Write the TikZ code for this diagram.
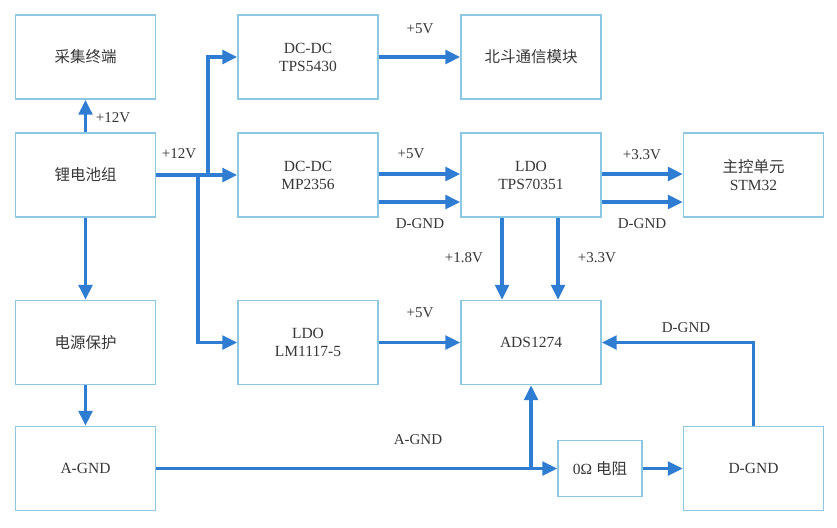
\documentclass[tikz,border=0pt]{standalone}
\usepackage{fontspec}
\setmainfont{Liberation Serif}
\newfontfamily\cjk{Noto Sans CJK SC}
\usetikzlibrary{arrows.meta}
\definecolor{boxc}{RGB}{140,200,225}
\definecolor{linec}{RGB}{46,125,210}
\definecolor{txt}{RGB}{55,55,55}
\begin{document}
\begin{tikzpicture}[x=1pt,y=-1pt,
  box/.style={draw=boxc,line width=1.3pt,fill=white,minimum width=140pt,minimum height=84pt,
    align=center,text=txt,font=\fontsize{15.5}{18}\selectfont,inner sep=0pt},
  conn/.style={draw=linec,line width=3.6pt},
  arr/.style={conn,-{Triangle[length=15pt,width=13.5pt]}},
  lbl/.style={text=txt,font=\fontsize{15}{17}\selectfont,inner sep=0pt}]
\path[fill=white] (0,0) rectangle (837,527);
% boxes
\node[box] (cj) at (85.5,57) {{\cjk 采集终端}};
\node[box] (li) at (85.5,175) {{\cjk 锂电池组}};
\node[box] (bh) at (85.5,342.5) {{\cjk 电源保护}};
\node[box] (ag) at (85.5,468.5) {A-GND};
\node[box] (tps) at (308,57) {DC-DC\\TPS5430};
\node[box] (mp) at (308,175) {DC-DC\\MP2356};
\node[box] (lm) at (308,342.5) {LDO\\LM1117-5};
\node[box] (bd) at (531,57) {{\cjk 北斗通信模块}};
\node[box] (ldo) at (531,175) {LDO\\TPS70351};
\node[box] (ads) at (531,342.5) {ADS1274};
\node[box] (mcu) at (753.5,175) {{\cjk 主控单元}\\STM32};
\node[box] (dg) at (753.5,468.5) {D-GND};
\node[box,minimum width=84pt,minimum height=56pt] (r0) at (600,468.5) {0Ω {\cjk 电阻}};
% coordinates
\coordinate (b1) at (208,175);
\coordinate (b2) at (198,175);
\coordinate (b3) at (531,468.5);
% connectors
\draw[arr] (li.north) -- (cj.south);
\draw[arr] (li.south) -- (bh.north);
\draw[arr] (bh.south) -- (ag.north);
\draw[arr] (li.east) -- (mp.west);
\draw[arr] (b1) |- (tps.west);
\draw[arr] (b2) |- (lm.west);
\draw[arr] (tps.east) -- (bd.west);
\draw[arr] ([yshift=1pt]mp.east) -- ([yshift=1pt]ldo.west);
\draw[arr] ([yshift=-27pt]mp.east) -- ([yshift=-27pt]ldo.west);
\draw[arr] ([yshift=1pt]ldo.east) -- ([yshift=1pt]mcu.west);
\draw[arr] ([yshift=-27pt]ldo.east) -- ([yshift=-27pt]mcu.west);
\draw[arr] ([xshift=-29pt]ldo.south) -- ([xshift=-29pt]ads.north);
\draw[arr] ([xshift=27pt]ldo.south) -- ([xshift=27pt]ads.north);
\draw[arr] (lm.east) -- (ads.west);
\draw[arr] (ag.east) -- (r0.west);
\draw[arr] (b3) -- (ads.south);
\draw[arr] (r0.east) -- (dg.west);
\draw[arr] (dg.north) |- (ads.east);
% labels
\node[lbl] at (113,118) {+12V};
\node[lbl] at (179,154) {+12V};
\node[lbl] at (420,29) {+5V};
\node[lbl] at (411,154) {+5V};
\node[lbl] at (420,224) {D-GND};
\node[lbl] at (642,155) {+3.3V};
\node[lbl] at (642,224) {D-GND};
\node[lbl] at (464,258) {+1.8V};
\node[lbl] at (597,258) {+3.3V};
\node[lbl] at (420,313) {+5V};
\node[lbl] at (686,328) {D-GND};
\node[lbl] at (418,440) {A-GND};
\end{tikzpicture}
\end{document}
